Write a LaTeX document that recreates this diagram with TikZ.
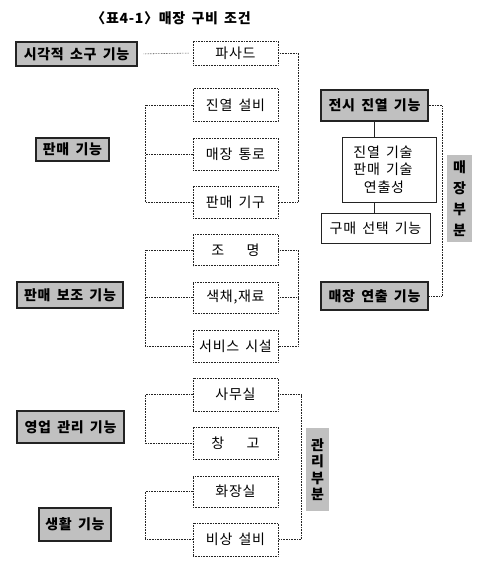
\documentclass[tikz,border=0pt]{standalone}
\usepackage{fontspec}
\setmainfont{Noto Sans CJK KR}[LetterSpace=5, WordSpace=1.6]
\usepackage{tikz}
\usetikzlibrary{positioning,calc}
\definecolor{scangray}{RGB}{192,192,192}
\definecolor{inkblack}{RGB}{35,35,35}
\tikzset{
  funcbox/.style={draw=inkblack, line width=1.1pt, fill=scangray, inner sep=0pt, font=\fontsize{14}{16}\selectfont\bfseries},
  itembox/.style={draw=inkblack, densely dotted, line width=0.6pt, inner sep=0pt, minimum width=85pt, font=\fontsize{14}{16}\selectfont},
  plainbox/.style={draw=inkblack, line width=0.9pt, fill=white, inner sep=0pt, font=\fontsize{14}{16}\selectfont},
  partlabel/.style={fill=scangray, inner sep=0pt, align=center, font=\fontsize{14}{16}\selectfont\bfseries},
  link/.style={draw=inkblack, densely dotted, line width=0.6pt},
}

\begin{document}
\begin{tikzpicture}[x=1pt, y=-1pt]
    \useasboundingbox (0,0) rectangle (489,567);
    % title
    \node[font=\fontsize{14}{16}\selectfont\bfseries] (title) at (171,18) {〈표4-1〉매장 구비 조건};

    % left column
    \node[funcbox, minimum width=121pt, minimum height=24pt] (visual) at (76.5,54) {시각적 소구 기능};
    \node[funcbox, minimum width=73pt, minimum height=23pt] (sales) at (72.5,149.5) {판매 기능};
    \node[funcbox, minimum width=106pt, minimum height=26pt] (support) at (70,295) {판매 보조 기능};
    \node[funcbox, minimum width=107pt, minimum height=32pt] (office) at (70.5,427) {영업 관리 기능};
    \node[funcbox, minimum width=72pt, minimum height=33pt] (living) at (75,524.5) {생활 기능};

    % middle column
    \node[itembox, minimum height=24pt] (facade) at (235.5,53) {파사드};
    \node[itembox, minimum height=33pt] (equip) at (235.5,105) {진열 설비};
    \node[itembox, minimum height=32pt] (aisle) at (235.5,154) {매장 통로};
    \node[itembox, minimum height=32pt] (fixture) at (235.5,202) {판매 기구};
    \node[itembox, minimum height=31pt] (light) at (235.5,250) {조\hspace{1.6em}명};
    \node[itembox, minimum height=31pt] (color) at (235.5,297.5) {색채,재료};
    \node[itembox, minimum height=32pt] (service) at (235.5,346) {서비스 시설};
    \node[itembox, minimum height=33pt] (desk) at (235.5,394.5) {사무실};
    \node[itembox, minimum height=32pt] (store) at (235.5,443) {창\hspace{1.6em}고};
    \node[itembox, minimum height=31pt] (toilet) at (235.5,491.5) {화장실};
    \node[itembox, minimum height=33pt] (safety) at (235.5,539.5) {비상 설비};

    % right column
    \node[funcbox, minimum width=107pt, minimum height=31pt] (display) at (374.5,105.5) {전시 진열 기능};
    \node[plainbox, minimum width=94pt, minimum height=65pt, align=center,
          font=\fontsize{14}{17.5}\selectfont] (skill) at (389,169.5) {\hspace*{-12pt}진열 기술\\\hspace*{-12pt}판매 기술\\\hspace*{-10pt}연출성};
    \node[plainbox, minimum width=109pt, minimum height=30pt] (choice) at (375.5,228) {구매 선택 기능};
    \node[funcbox, minimum width=107pt, minimum height=28pt] (staging) at (374.5,296) {매장 연출 기능};

    % part labels
    \node[partlabel, minimum width=25pt, minimum height=87pt, font=\fontsize{14}{21}\selectfont\bfseries] (floorpart) at (459.5,198.5) {매\\장\\부\\분};
    \node[partlabel, minimum width=23pt, minimum height=83pt, font=\fontsize{14}{16.5}\selectfont\bfseries] (adminpart) at (317.5,469.5) {관\\리\\부\\분};

    % bracket columns
    \coordinate (lx) at (145,0);
    \coordinate (rx) at (298,0);
    \coordinate (rxlow) at (301,0);
    \coordinate (ex) at (442,0);

    \draw[link, shorten <=6pt, shorten >=3pt] (visual.east) -- (facade.west);
    \draw[link] (equip.west) -- (equip.west -| lx) -- (fixture.west -| lx) -- (fixture.west);
    \draw[link] (aisle.west) -- (aisle.west -| lx);
    \draw[link] (facade.east) -- (facade.east -| rx) -- (fixture.east -| rx) -- (fixture.east);

    \draw[link] (light.west) -- (light.west -| lx) -- (service.west -| lx) -- (service.west);
    \draw[link] (color.west) -- (color.west -| lx);
    \draw[link] (light.east) -- (light.east -| rx) -- (service.east -| rx) -- (service.east);
    \draw[link] (color.east) -- (color.east -| rx);

    \draw[link] (desk.west) -- (desk.west -| lx) -- (store.west -| lx) -- (store.west);
    \draw[link] (toilet.west) -- (toilet.west -| lx) -- (safety.west -| lx) -- (safety.west);
    \draw[link] (desk.east) -- (desk.east -| rxlow) -- (safety.east -| rxlow) -- (safety.east);

    \draw[line width=1.2pt, inkblack] (display.south) -- (display.south |- skill.north);
    \draw[line width=1.2pt, inkblack] (skill.south -| display.south) -- (choice.north -| display.south);
    \draw[link] (display.east) -- (display.east -| ex) -- (staging.east -| ex) -- (staging.east);
\end{tikzpicture}
\end{document}
